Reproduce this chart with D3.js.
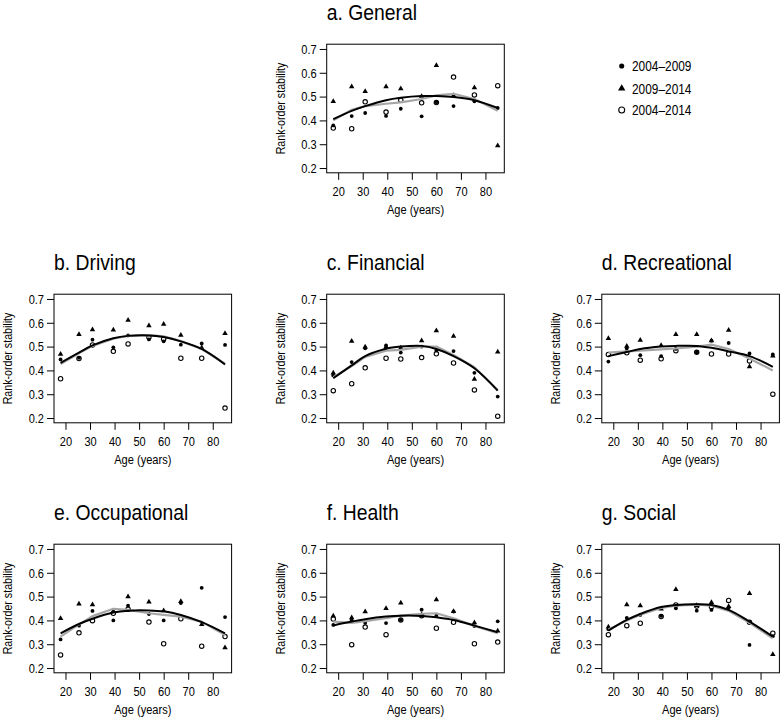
<!DOCTYPE html>
<html>
<head>
<meta charset="utf-8">
<script src="https://cdn.jsdelivr.net/npm/d3@7"></script>
<style>
  body { margin: 0; background: #fff; }
  svg { display: block; font-family: "Liberation Sans", Arial, sans-serif; }
</style>
</head>
<body>
<svg width="780" height="717"></svg>
<script>
// age group midpoints (x values shared by every panel)
let ages = [18, 25.5, 31, 39.5, 45.5, 54, 60, 67, 75.5, 85];
let xTicks = [20, 30, 40, 50, 60, 70, 80];
let yTicks = [0.2, 0.3, 0.4, 0.5, 0.6, 0.7];
let seriesNames = ["2004\u20132009", "2009\u20132014", "2004\u20132014"];

// a. General
let general0409 = [0.379, 0.418, 0.431, 0.419, 0.449, 0.417, 0.476, 0.46, 0.48, 0.452];
let general0914 = [0.478, 0.54, 0.52, 0.54, 0.532, 0.50, 0.63, 0.504, 0.536, 0.293];
let general0414 = [0.368, 0.365, 0.478, 0.435, 0.485, 0.474, 0.475, 0.582, 0.507, 0.546];
let generalFitBlack = [0.405, 0.44, 0.46, 0.485, 0.495, 0.502, 0.502, 0.498, 0.485, 0.452];
let generalFitGray = [0.40, 0.445, 0.46, 0.47, 0.476, 0.49, 0.505, 0.512, 0.49, 0.44];

// b. Driving
let driving0409 = [0.446, 0.453, 0.529, 0.497, 0.547, 0.53, 0.522, 0.508, 0.513, 0.507];
let driving0914 = [0.467, 0.55, 0.57, 0.569, 0.61, 0.587, 0.593, 0.547, 0.494, 0.554];
let driving0414 = [0.365, 0.45, 0.507, 0.48, 0.511, 0.539, 0.532, 0.451, 0.451, 0.242];
let drivingFitBlack = [0.432, 0.475, 0.505, 0.535, 0.545, 0.547, 0.54, 0.522, 0.49, 0.425];
let drivingFitGray = [0.427, 0.472, 0.503, 0.533, 0.545, 0.548, 0.543, 0.523, 0.49, 0.428];

// c. Financial
let financial0409 = [0.379, 0.435, 0.493, 0.505, 0.475, 0.5, 0.483, 0.481, 0.39, 0.29];
let financial0914 = [0.388, 0.522, 0.497, 0.497, 0.493, 0.524, 0.566, 0.543, 0.362, 0.476];
let financial0414 = [0.315, 0.344, 0.411, 0.451, 0.448, 0.454, 0.47, 0.431, 0.318, 0.208];
let financialFitBlack = [0.367, 0.421, 0.46, 0.491, 0.5, 0.503, 0.49, 0.46, 0.409, 0.315];
let financialFitGray = [0.371, 0.418, 0.457, 0.483, 0.486, 0.5, 0.5, 0.465, 0.413, 0.318];

// d. Recreational
let recreational0409 = [0.437, 0.492, 0.464, 0.46, 0.49, 0.476, 0.525, 0.515, 0.471, 0.467];
let recreational0914 = [0.533, 0.501, 0.526, 0.504, 0.55, 0.55, 0.524, 0.568, 0.414, 0.46];
let recreational0414 = [0.467, 0.474, 0.443, 0.449, 0.483, 0.476, 0.469, 0.469, 0.44, 0.3];
let recreationalFitBlack = [0.46, 0.477, 0.49, 0.5, 0.503, 0.503, 0.495, 0.48, 0.46, 0.415];
let recreationalFitGray = [0.475, 0.48, 0.483, 0.488, 0.492, 0.5, 0.508, 0.49, 0.45, 0.4];

// e. Occupational
let occupational0409 = [0.32, 0.378, 0.44, 0.4, 0.462, 0.427, 0.4, 0.473, 0.537, 0.414];
let occupational0914 = [0.407, 0.468, 0.465, 0.437, 0.498, 0.476, 0.44, 0.478, 0.382, 0.284];
let occupational0414 = [0.255, 0.348, 0.399, 0.43, 0.447, 0.393, 0.302, 0.407, 0.292, 0.332];
let occupationalFitBlack = [0.346, 0.385, 0.407, 0.433, 0.441, 0.442, 0.438, 0.423, 0.393, 0.346];
let occupationalFitGray = [0.332, 0.383, 0.418, 0.449, 0.444, 0.43, 0.423, 0.416, 0.395, 0.339];

// f. Health
let health0409 = [0.381, 0.40, 0.39, 0.389, 0.402, 0.445, 0.42, 0.437, 0.376, 0.396];
let health0914 = [0.418, 0.41, 0.435, 0.449, 0.472, 0.423, 0.486, 0.437, 0.389, 0.355];
let health0414 = [0.406, 0.298, 0.372, 0.34, 0.402, 0.42, 0.367, 0.392, 0.302, 0.309];
let healthFitBlack = [0.379, 0.395, 0.405, 0.416, 0.42, 0.419, 0.413, 0.402, 0.378, 0.35];
let healthFitGray = [0.395, 0.39, 0.397, 0.409, 0.42, 0.428, 0.43, 0.409, 0.377, 0.346];

// g. Social
let social0409 = [0.363, 0.411, 0.423, 0.419, 0.451, 0.441, 0.444, 0.453, 0.297, 0.334];
let social0914 = [0.371, 0.465, 0.461, 0.447, 0.529, 0.462, 0.474, 0.457, 0.512, 0.256];
let social0414 = [0.34, 0.378, 0.388, 0.416, 0.465, 0.46, 0.457, 0.484, 0.392, 0.346];
let socialFitBlack = [0.357, 0.402, 0.427, 0.456, 0.465, 0.468, 0.465, 0.444, 0.395, 0.332];
let socialFitGray = [0.362, 0.40, 0.424, 0.452, 0.462, 0.466, 0.462, 0.44, 0.39, 0.325];

let panels = [
    {title: "a. General", s: [general0409, general0914, general0414], black: generalFitBlack, gray: generalFitGray, col: 1, row: 0},
    {title: "b. Driving", s: [driving0409, driving0914, driving0414], black: drivingFitBlack, gray: drivingFitGray, col: 0, row: 1},
    {title: "c. Financial", s: [financial0409, financial0914, financial0414], black: financialFitBlack, gray: financialFitGray, col: 1, row: 1},
    {title: "d. Recreational", s: [recreational0409, recreational0914, recreational0414], black: recreationalFitBlack, gray: recreationalFitGray, col: 2, row: 1},
    {title: "e. Occupational", s: [occupational0409, occupational0914, occupational0414], black: occupationalFitBlack, gray: occupationalFitGray, col: 0, row: 2},
    {title: "f. Health", s: [health0409, health0914, health0414], black: healthFitBlack, gray: healthFitGray, col: 1, row: 2},
    {title: "g. Social", s: [social0409, social0914, social0414], black: socialFitBlack, gray: socialFitGray, col: 2, row: 2}
];

let svg = d3.select("svg");
svg.append("rect").attr("width", 780).attr("height", 717).attr("fill", "#fff");

let colX = [54, 326.7, 601.8];
let rowY = [44.2, 294.2, 544.2];
let boxW = 177.6, boxH = 128.6;
let narrow = 0.82;   // no condensed font installed, so squeeze Liberation Sans

let triangle = d3.symbol().type(d3.symbolTriangle);

// text squeezed horizontally (along its own direction)
function addText(parent, x, y, str, size, opts) {
    let o = opts || {};
    let tr = "translate(" + x + "," + y + ")" + (o.rotate ? " rotate(" + o.rotate + ")" : "") +
        " scale(" + (o.squeeze || narrow) + ",1)";
    return parent.append("text").attr("transform", tr)
        .attr("text-anchor", o.anchor || "start")
        .attr("font-size", size).text(str);
}

// draw one of the three point styles
function drawMarks(g, pts, kind, scale) {
    let k = scale || 1;
    if (kind === 0) {
        g.selectAll(null).data(pts).enter().append("circle")
            .attr("cx", d => d[0]).attr("cy", d => d[1])
            .attr("r", 1.9 * k).attr("fill", "#000");
    } else if (kind === 1) {
        g.selectAll(null).data(pts).enter().append("path")
            .attr("d", triangle.size(13 * k * k))
            .attr("transform", d => "translate(" + d[0] + "," + (d[1] - 0.3) + ")")
            .attr("fill", "#000");
    } else {
        g.selectAll(null).data(pts).enter().append("circle")
            .attr("cx", d => d[0]).attr("cy", d => d[1])
            .attr("r", 2.2 * k).attr("fill", "none")
            .attr("stroke", "#000").attr("stroke-width", 1.1);
    }
}

panels.forEach(function (p) {
    let left = colX[p.col], top = rowY[p.row];
    let g = svg.append("g").attr("transform", "translate(" + left + "," + top + ")");

    let x = d3.scaleLinear().domain([15.32, 87.68]).range([0, boxW]);
    let y = d3.scaleLinear().domain([0.18, 0.72]).range([boxH, 0]);

    // x axis
    let xa = g.append("g").attr("transform", "translate(0," + boxH + ")")
        .call(d3.axisBottom(x).tickValues(xTicks).tickSize(7).tickPadding(7).tickFormat(d3.format("d")));
    // y axis
    let ya = g.append("g")
        .call(d3.axisLeft(y).tickValues(yTicks).tickSize(7).tickPadding(3).tickFormat(d3.format(".1f")));
    [xa, ya].forEach(function (a) {
        a.select(".domain").remove();
        a.selectAll("line").attr("stroke", "#000").attr("stroke-width", 1);
        a.selectAll("text").attr("font-size", 13.5).attr("fill", "#000")
            .attr("font-family", null)
            .attr("x", function () { return (+d3.select(this).attr("x") || 0) / narrow; })
            .attr("transform", "scale(" + narrow + ",1)");
    });

    // points
    p.s.forEach(function (vals, k) {
        let pts = ages.map((a, i) => [x(a), y(vals[i])]);
        drawMarks(g.append("g"), pts, k);
    });

    // fitted curves
    let grayLine = d3.line().x((d, i) => x(ages[i])).y(d => y(d));
    let blackLine = d3.line().x((d, i) => x(ages[i])).y(d => y(d)).curve(d3.curveCatmullRom);
    g.append("path").attr("d", grayLine(p.gray)).attr("fill", "none")
        .attr("stroke", "#a6a6a6").attr("stroke-width", 2.2).attr("stroke-linejoin", "round");
    g.append("path").attr("d", blackLine(p.black)).attr("fill", "none")
        .attr("stroke", "#000").attr("stroke-width", 2);

    // frame
    g.append("rect").attr("width", boxW).attr("height", boxH)
        .attr("fill", "none").attr("stroke", "#000").attr("stroke-width", 1);

    // titles and labels
    addText(g, 0, -24.5, p.title, 22.5, {squeeze: 0.86});
    addText(g, boxW / 2, boxH + 41, "Age (years)", 13.5, {anchor: "middle"});
    addText(g, -42, boxH / 2, "Rank-order stability", 13, {anchor: "middle", rotate: -90});
});

// legend
let legend = svg.append("g");
let legendY = [66, 88.7, 110];
seriesNames.forEach(function (name, k) {
    drawMarks(legend.append("g"), [[621.7, legendY[k]]], k, 1.35);
    addText(legend, 632, legendY[k] + 5, name, 14.5);
});
</script>
</body>
</html>
